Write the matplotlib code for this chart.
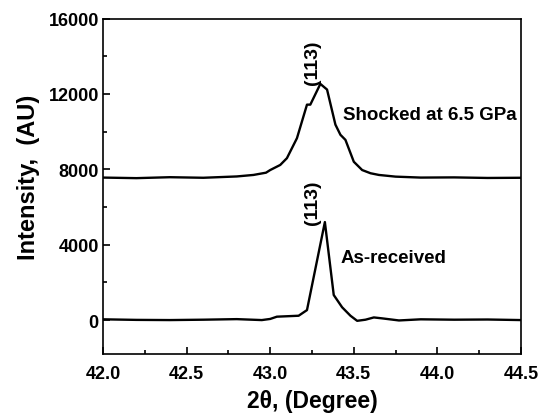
import matplotlib
matplotlib.use("Agg")
import matplotlib.pyplot as plt
from matplotlib.ticker import MultipleLocator, FormatStrFormatter

plt.rcParams['font.family'] = ['Liberation Sans', 'DejaVu Sans']
plt.rcParams['font.weight'] = 'bold'

shocked_x = [42.0, 42.2, 42.4, 42.6, 42.8, 42.9, 42.975, 43.0, 43.06, 43.1, 43.16, 43.22, 43.24,
             43.30, 43.34, 43.39, 43.42, 43.45, 43.5, 43.55, 43.6, 43.65, 43.75, 43.9, 44.1, 44.3, 44.5]
shocked_y = [7560, 7530, 7580, 7550, 7620, 7700, 7820, 7960, 8230, 8590, 9650, 11430, 11430,
             12530, 12230, 10370, 9830, 9560, 8400, 7960, 7790, 7700, 7610, 7560, 7570, 7540, 7550]

asrec_x = [42.0, 42.2, 42.4, 42.6, 42.8, 42.95, 43.0, 43.04, 43.17, 43.22, 43.327, 43.38, 43.43,
           43.48, 43.52, 43.57, 43.62, 43.67, 43.77, 43.9, 44.1, 44.3, 44.5]
asrec_y = [40, 10, 0, 20, 50, 0, 60, 180, 230, 530, 5200, 1330, 680,
           230, -40, 20, 140, 90, -20, 40, 20, 30, 0]

fig = plt.figure(figsize=(5.41, 4.14), dpi=100)
ax = fig.add_axes([103/541, 1 - 355/414, 418/541, 335.5/414])
ax.plot(shocked_x, shocked_y, color='black', lw=1.7)
ax.plot(asrec_x, asrec_y, color='black', lw=1.7)

ax.set_xlim(42.0, 44.5)
ax.set_ylim(-1800, 16000)
ax.xaxis.set_major_locator(MultipleLocator(0.5))
ax.xaxis.set_minor_locator(MultipleLocator(0.25))
ax.yaxis.set_major_locator(MultipleLocator(4000))
ax.yaxis.set_minor_locator(MultipleLocator(2000))
ax.xaxis.set_major_formatter(FormatStrFormatter('%.1f'))
ax.tick_params(which='both', direction='in', top=False, right=False, width=1.2, labelsize=13)
ax.tick_params(axis='x', which='major', pad=8)
ax.tick_params(axis='y', which='major', pad=3)
ax.tick_params(which='major', length=5)
ax.tick_params(which='minor', length=3)
for s in ax.spines.values():
    s.set_linewidth(1.2)
for lab in ax.get_xticklabels() + ax.get_yticklabels():
    lab.set_fontweight('bold')

ax.set_xlabel('2θ, (Degree)', fontsize=16.5, fontweight='bold', labelpad=5)
ax.set_ylabel('Intensity,  (AU)', fontsize=17, fontweight='bold')
ax.yaxis.set_label_coords(-0.15, 0.528)

ax.text(43.25, 12500, '(113)', rotation=90, ha='center', va='bottom', fontsize=14, fontweight='bold')
ax.text(43.25, 5100, '(113)', rotation=90, ha='center', va='bottom', fontsize=14, fontweight='bold')
ax.text(43.435, 10930, 'Shocked at 6.5 GPa', ha='left', va='center', fontsize=13.5, fontweight='bold')
ax.text(43.42, 3320, 'As-received', ha='left', va='center', fontsize=13.5, fontweight='bold')

fig.savefig('out.png', dpi=100)
